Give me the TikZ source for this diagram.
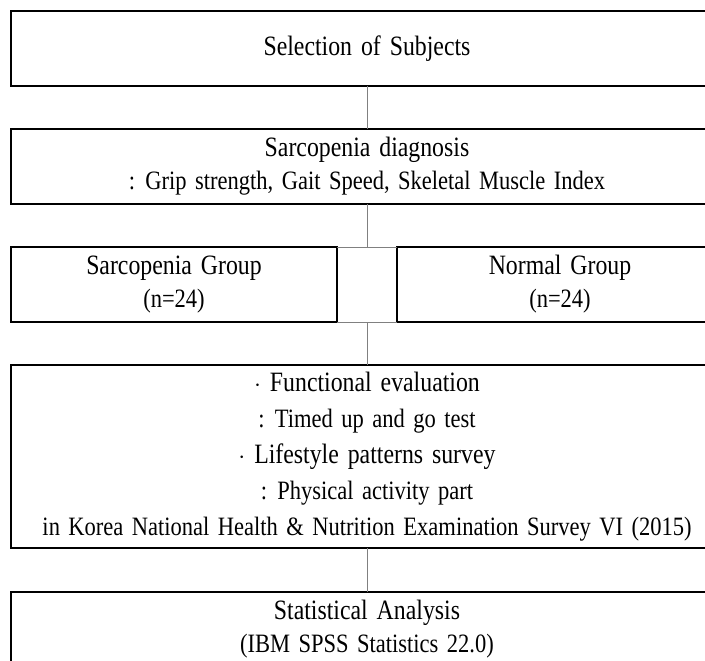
\documentclass[tikz,border=0pt]{standalone}
\usepackage{fontspec}
\setmainfont{Liberation Serif}[FakeStretch=0.85, WordSpace=1.5]
\usetikzlibrary{positioning}
\tikzset{
	%Define style for the boxes
	stepbox/.style={
		rectangle,
		draw=black, line width=2.4pt,
		outer sep=0pt,
		minimum width=712pt,
		minimum height=75pt,
		align=center,
		font=\fontsize{28}{33}\selectfont},
	% the two group boxes are narrower
	groupbox/.style={
		stepbox,
		minimum width=326pt},
	% Define line style
	link/.style={
		draw=black!50,
		line width=0.9pt}
}
\newcommand{\subline}[1]{{\fontsize{26.5}{33}\selectfont #1}}

\begin{document}
\begin{tikzpicture}[x=1pt, y=1pt]
		\useasboundingbox (0,0) rectangle (705,-661);
		\clip (0,0) rectangle (705,-661);
		%nodes
		\node[stepbox] (subjects) at (367,-48.5) {Selection of Subjects};
		\node[stepbox, below=43pt of subjects]
		(diagnosis) {Sarcopenia diagnosis\\
			\subline{: Grip strength, Gait Speed, Skeletal Muscle Index}};
		% group boxes hang from the corners of the box above
		\node[groupbox, below=43pt of diagnosis.south west, anchor=north west]
		(sarco) {Sarcopenia Group\\ \subline{(n=24)}};
		\node[groupbox, below=43pt of diagnosis.south east, anchor=north east]
		(normal) {Normal Group\\ \subline{(n=24)}};
		\path (sarco.north east) -- (normal.north west) coordinate[midway] (gtop);
		\path (sarco.south east) -- (normal.south west) coordinate[midway] (gbot);
		\node[stepbox, minimum height=183pt, below=43pt of gbot,
		font=\fontsize{28}{36}\selectfont]
		(evaluation) {$\cdot$ Functional evaluation\\
			\subline{: Timed up and go test}\\
			$\cdot$ Lifestyle patterns survey\\
			\subline{: Physical activity part}\\
			\subline{in Korea National Health \& Nutrition Examination Survey VI (2015)}};
		\node[stepbox, below=44pt of evaluation]
		(analysis) {Statistical Analysis\\ \subline{(IBM SPSS Statistics 22.0)}};
		% connectors
		\draw[link] (subjects) -- (diagnosis);
		\draw[link] (diagnosis) -- (gtop);
		\draw[link] (sarco.north east) -- (normal.north west);
		\draw[link] (sarco.south east) -- (normal.south west);
		\draw[link] (gbot) -- (evaluation);
		\draw[link] (evaluation) -- (analysis);
\end{tikzpicture}
\end{document}
